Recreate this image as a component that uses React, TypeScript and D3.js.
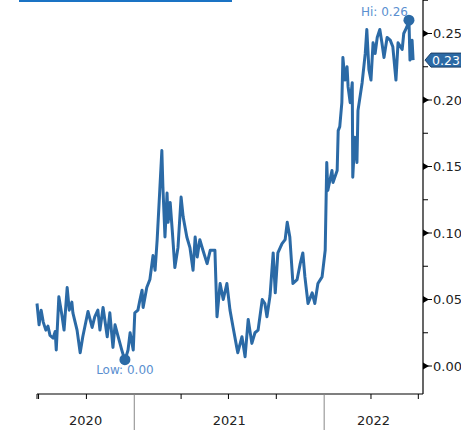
import React from "react";
import * as d3 from "d3";

const dates: string[] = [
  "2020-06-28","2020-07-02","2020-07-06","2020-07-10","2020-07-15","2020-07-19","2020-07-23","2020-07-29","2020-08-02","2020-08-04",
  "2020-08-09","2020-08-15","2020-08-19","2020-08-25","2020-08-29","2020-09-03","2020-09-05","2020-09-13","2020-09-19","2020-09-24",
  "2020-10-04","2020-10-12","2020-10-17","2020-10-23","2020-10-27","2020-11-02","2020-11-10","2020-11-15","2020-11-21","2020-11-25",
  "2020-12-01","2020-12-08","2020-12-14","2020-12-20","2020-12-24","2020-12-30","2021-01-02","2021-01-08","2021-01-12","2021-01-16",
  "2021-01-18","2021-01-25","2021-01-31","2021-02-06","2021-02-10","2021-02-14","2021-02-19","2021-02-23","2021-02-25","2021-03-01",
  "2021-03-05","2021-03-07","2021-03-11","2021-03-15","2021-03-20","2021-03-26","2021-04-01","2021-04-05","2021-04-12","2021-04-18",
  "2021-04-24","2021-04-28","2021-05-02","2021-05-07","2021-05-13","2021-05-21","2021-05-27","2021-06-05","2021-06-09","2021-06-15",
  "2021-06-21","2021-06-28","2021-07-04","2021-07-10","2021-07-17","2021-07-19","2021-07-27","2021-08-02","2021-08-08","2021-08-15",
  "2021-08-21","2021-08-27","2021-09-04","2021-09-09","2021-09-13","2021-09-19","2021-09-25","2021-09-29","2021-10-04","2021-10-12",
  "2021-10-18","2021-10-22","2021-10-27","2021-11-02","2021-11-10","2021-11-16","2021-11-21","2021-11-25","2021-12-01","2021-12-09",
  "2021-12-14","2021-12-20","2021-12-28","2022-01-03","2022-01-06","2022-01-08","2022-01-16","2022-01-18","2022-01-26","2022-01-28",
  "2022-01-31","2022-02-04","2022-02-06","2022-02-10","2022-02-14","2022-02-16","2022-02-20","2022-02-24","2022-02-25","2022-03-01",
  "2022-03-05","2022-03-07","2022-03-15","2022-03-21","2022-03-24","2022-03-28","2022-04-01","2022-04-05","2022-04-09","2022-04-13",
  "2022-04-18","2022-04-22","2022-04-26","2022-05-02","2022-05-08","2022-05-13","2022-05-19","2022-05-23","2022-05-31","2022-06-03",
  "2022-06-09","2022-06-13","2022-06-15","2022-06-19","2022-06-21",
];

const values: number[] = [
  0.047,0.031,0.042,0.033,0.027,0.030,0.023,0.021,0.026,0.012,
  0.052,0.038,0.027,0.059,0.042,0.048,0.040,0.027,0.010,0.022,
  0.041,0.029,0.037,0.042,0.027,0.044,0.022,0.040,0.014,0.031,
  0.022,0.012,0.004,0.012,0.025,0.012,0.040,0.042,0.050,0.057,
  0.044,0.059,0.065,0.083,0.072,0.095,0.132,0.162,0.135,0.097,
  0.130,0.108,0.123,0.102,0.074,0.089,0.127,0.112,0.097,0.089,
  0.072,0.097,0.082,0.095,0.087,0.077,0.087,0.087,0.037,0.062,
  0.050,0.062,0.042,0.029,0.014,0.010,0.022,0.007,0.035,0.017,
  0.025,0.027,0.050,0.047,0.037,0.053,0.085,0.055,0.085,0.092,
  0.095,0.108,0.097,0.062,0.065,0.077,0.085,0.067,0.047,0.055,
  0.047,0.062,0.067,0.087,0.153,0.132,0.147,0.138,0.147,0.177,
  0.180,0.198,0.232,0.215,0.225,0.210,0.198,0.213,0.142,0.172,
  0.153,0.192,0.213,0.235,0.253,0.223,0.215,0.243,0.235,0.247,
  0.253,0.243,0.232,0.247,0.245,0.240,0.215,0.243,0.238,0.250,
  0.255,0.260,0.230,0.245,0.230,
];

const yTicks: number[] = [0, 0.05, 0.1, 0.15, 0.2, 0.25];
const yMinorTicks: number[] = [0.025, 0.075, 0.125, 0.175, 0.225, 0.275];
const yearLabels: string[] = ["2020", "2021", "2022"];
const yearStarts: string[] = ["2021-01-01", "2022-01-01"];
const quarterTicks: string[] = [
  "2020-07-01", "2020-10-01", "2021-04-01", "2021-07-01", "2021-10-01", "2022-04-01", "2022-07-01",
];
const domainStart = "2020-06-28";
const domainEnd = "2022-07-10";

const W = 461;
const H = 430;
const LEFT = 37;
const RIGHT = 423;
const AXIS_Y = 394;

const LINE = "#2b6aa6";
const LABEL_BLUE = "#5b8fd0";
const FONT = "'DejaVu Sans', Verdana, sans-serif";

export default function App() {
  const parse = d3.timeParse("%Y-%m-%d");
  const data = dates.map((d, i) => ({ date: parse(d) as Date, value: values[i] }));

  const x = d3.scaleTime().domain([parse(domainStart) as Date, parse(domainEnd) as Date]).range([LEFT, RIGHT]);
  const y = d3.scaleLinear().domain([0, 0.25]).range([366, 33.5]);

  const line = d3
    .line<{ date: Date; value: number }>()
    .x((d) => x(d.date))
    .y((d) => y(d.value))
    .curve(d3.curveLinear);

  const hi = data.reduce((a, b) => (b.value > a.value ? b : a));
  const lo = data.reduce((a, b) => (b.value < a.value ? b : a));
  const last = data[data.length - 1];

  const yearBounds = [x.range()[0], ...yearStarts.map((s) => x(parse(s) as Date)), x.range()[1]];

  const ly = y(last.value);

  return (
    <svg
      width={W}
      height={H}
      style={{ position: "absolute", left: 0, top: 0, background: "#fff" }}
      fontFamily={FONT}
    >
      <rect x={19} y={0} width={213} height={2} fill="#1a73c4" />

      <path d={line(data) || ""} fill="none" stroke={LINE} strokeWidth={3} strokeLinejoin="round" />

      {/* hi / low markers */}
      <circle cx={x(hi.date)} cy={y(hi.value)} r={5.5} fill={LINE} />
      <text x={x(hi.date) - 1} y={16} textAnchor="end" fontSize={12} fill={LABEL_BLUE}>
        {`Hi: ${d3.format(".2f")(hi.value)}`}
      </text>
      <circle cx={x(lo.date)} cy={y(lo.value) - 1} r={5.5} fill={LINE} />
      <text x={x(lo.date)} y={374} textAnchor="middle" fontSize={12} fill={LABEL_BLUE}>
        {`Low: ${d3.format(".2f")(lo.value)}`}
      </text>

      {/* right axis */}
      <line x1={RIGHT} x2={RIGHT} y1={0} y2={AXIS_Y} stroke="#000" strokeWidth={1.2} />
      {yMinorTicks.map((t) => (
        <line key={"m" + t} x1={RIGHT} x2={RIGHT + 5} y1={y(t)} y2={y(t)} stroke="#000" strokeWidth={1} />
      ))}
      {yTicks.map((t) => (
        <g key={"t" + t} transform={`translate(${RIGHT},${y(t)})`}>
          <path d="M0,-3.5 L6,0 L0,3.5 Z" fill="#000" />
          <line x1={0} x2={9} y1={0} y2={0} stroke="#000" strokeWidth={1} />
          <text x={10} y={4.5} fontSize={13} fill="#222">
            {d3.format(".2f")(t)}
          </text>
        </g>
      ))}

      {/* current value tag */}
      <g transform={`translate(${RIGHT + 2},${ly})`}>
        <path d="M0,0 L6,-7 L40,-7 L40,7 L6,7 Z" fill="#2c6aa5" stroke="#1d3f66" strokeWidth={1} />
        <text x={7} y={4.5} fontSize={12.5} fill="#fff">
          {d3.format(".2f")(last.value)}
        </text>
      </g>

      {/* bottom axis */}
      <line x1={LEFT} x2={RIGHT} y1={AXIS_Y} y2={AXIS_Y} stroke="#000" strokeWidth={1.2} />
      {quarterTicks.map((q) => {
        const qx = x(parse(q) as Date);
        return <line key={q} x1={qx} x2={qx} y1={AXIS_Y} y2={AXIS_Y + 5} stroke="#000" strokeWidth={1} />;
      })}
      <line x1={LEFT} x2={LEFT} y1={AXIS_Y} y2={AXIS_Y + 5} stroke="#000" strokeWidth={1} />
      {yearStarts.map((s) => {
        const sx = x(parse(s) as Date);
        return <line key={s} x1={sx} x2={sx} y1={AXIS_Y} y2={H} stroke="#888" strokeWidth={1} />;
      })}
      {yearLabels.map((lab, i) => (
        <text
          key={lab}
          x={(yearBounds[i] + yearBounds[i + 1]) / 2}
          y={425}
          textAnchor="middle"
          fontSize={13}
          fill="#222"
        >
          {lab}
        </text>
      ))}
    </svg>
  );
}
